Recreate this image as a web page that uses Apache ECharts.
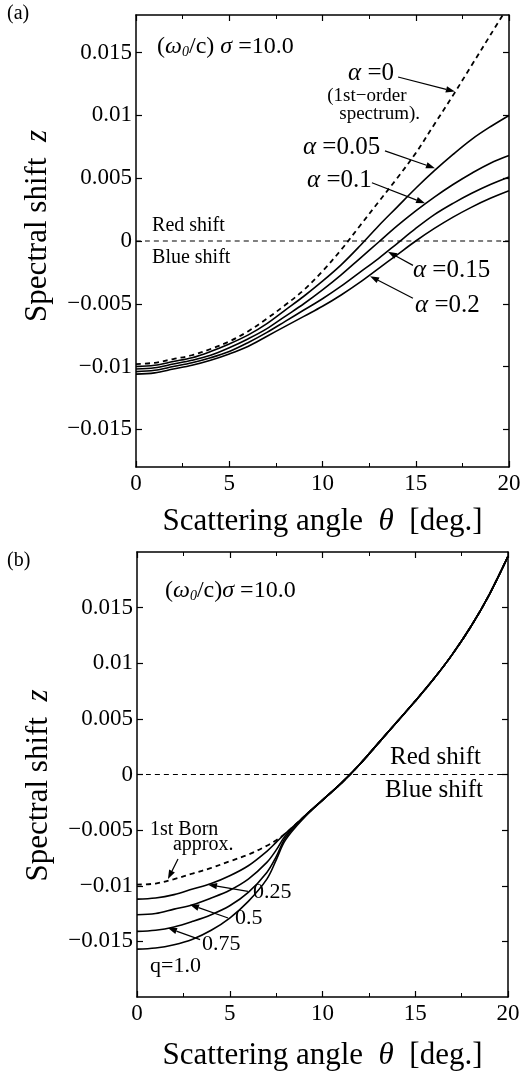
<!DOCTYPE html>
<html><head><meta charset="utf-8">
<script src="https://cdn.jsdelivr.net/npm/echarts@6/dist/echarts.min.js"></script>
<style>html,body{margin:0;padding:0;background:#fff}#c{width:525px;height:1072px}</style>
</head><body><div id="c"></div>
<script>
// ---------- data ----------
const xTicks = [0, 5, 10, 15, 20];
const yTicks = [-0.015, -0.01, -0.005, 0, 0.005, 0.01, 0.015];

// Panel (a): scattering angle grid
const thetaA = [0,1,2,3,4,5,6,7,8,9,10,11,12,13,14,15,16,17,18,19,20];
const zAlpha0   = [-0.0098,-0.0097,-0.0094,-0.0091,-0.0086,-0.0080,-0.0072,-0.0062,-0.0051,-0.0039,-0.0024,-0.0007,0.0012,0.0031,0.0050,0.0070,0.0093,0.0116,0.0140,0.0164,0.0188];
const zAlpha005 = [-0.0100,-0.0099,-0.0096,-0.0093,-0.0088,-0.0082,-0.0075,-0.0066,-0.0055,-0.0044,-0.0032,-0.0019,-0.0004,0.0012,0.0027,0.0042,0.0056,0.0069,0.0081,0.0091,0.0100];
const zAlpha01  = [-0.0102,-0.0101,-0.0098,-0.0095,-0.0091,-0.0085,-0.0078,-0.0070,-0.0060,-0.0050,-0.0039,-0.0027,-0.0014,-0.0001,0.0012,0.0024,0.0035,0.0045,0.0054,0.0062,0.0068];
const zAlpha015 = [-0.0104,-0.0103,-0.0100,-0.0097,-0.0093,-0.0088,-0.0081,-0.0073,-0.0064,-0.0055,-0.0046,-0.0036,-0.0025,-0.0014,-0.0002,0.0010,0.0021,0.0030,0.0038,0.0045,0.0051];
const zAlpha02  = [-0.0106,-0.0105,-0.0102,-0.0099,-0.0095,-0.0090,-0.0084,-0.0076,-0.0068,-0.0060,-0.0052,-0.0043,-0.0033,-0.0022,-0.0011,0.0000,0.0010,0.0019,0.0027,0.0034,0.0040];

// Panel (b)
const thetaB = [0,1,2,3,4,5,6,7,7.5,8,9,10,11,12,13,14,15,16,17,18,19,20];
const zBorn = [-0.0099,-0.0098,-0.0094,-0.0089,-0.0084,-0.0078,-0.0072,-0.0064,-0.0059,-0.0053,-0.0038,-0.0023,-0.0008,0.0009,0.0028,0.0047,0.0066,0.0086,0.0108,0.0133,0.0162,0.0196];
const zQ025 = [-0.0112,-0.0111,-0.0108,-0.0103,-0.0098,-0.0091,-0.0082,-0.0069,-0.0061,-0.0053,-0.0038,-0.0023,-0.0008,0.0009,0.0028,0.0047,0.0066,0.0086,0.0108,0.0133,0.0162,0.0196];
const zQ05  = [-0.0126,-0.0125,-0.0121,-0.0117,-0.0111,-0.0104,-0.0094,-0.0079,-0.0068,-0.0055,-0.0038,-0.0023,-0.0008,0.0009,0.0028,0.0047,0.0066,0.0086,0.0108,0.0133,0.0162,0.0196];
const zQ075 = [-0.0141,-0.0140,-0.0137,-0.0132,-0.0126,-0.0118,-0.0106,-0.0088,-0.0074,-0.0057,-0.0038,-0.0023,-0.0008,0.0009,0.0028,0.0047,0.0066,0.0086,0.0108,0.0133,0.0162,0.0196];
const zQ1   = [-0.0157,-0.0156,-0.0153,-0.0148,-0.0140,-0.0129,-0.0114,-0.0094,-0.0077,-0.0059,-0.0039,-0.0023,-0.0008,0.0009,0.0028,0.0047,0.0066,0.0086,0.0108,0.0133,0.0162,0.0196];

// red/blue shift divider
const zeroX = [0, 20];
const zeroZ = [0, 0];

// ---------- chart ----------
const FONT = '"Liberation Serif", "Times New Roman", serif';
const chart = echarts.init(document.getElementById('c'), null, {renderer: 'canvas'});
const pair = (xs, ys) => xs.map((x, i) => [x, ys[i]]);
const fmtY = v => { const s = String(+Math.abs(v).toFixed(3)); return v < 0 ? '\u2212' + s : s; };

function xAxes(g, nameGap) {
  const base = {
    gridIndex: g, type: 'value', min: 0, max: 20, interval: 5,
    axisLine: {show: true, onZero: false, lineStyle: {color: '#000', width: 1.5}},
    axisTick: {show: true, inside: true, length: 6, lineStyle: {color: '#000', width: 1.2}},
    minorTick: {show: true, splitNumber: 2, length: 4, lineStyle: {color: '#000', width: 1}},
    splitLine: {show: false}, minorSplitLine: {show: false}
  };
  return [
    Object.assign({}, base, {
      position: 'bottom',
      axisLabel: {show: true, color: '#000', fontFamily: FONT, fontSize: 23, margin: 5,
        customValues: xTicks, formatter: v => String(v)},
      name: 'Scattering angle  {i|\u03b8}  [deg.]', nameLocation: 'middle', nameGap: nameGap,
      nameTextStyle: {color: '#000', fontFamily: FONT, fontSize: 31,
        rich: {i: {fontFamily: FONT, fontStyle: 'italic', fontSize: 31, color: '#000'}}}
    }),
    Object.assign({}, base, {position: 'top', axisLabel: {show: false}})
  ];
}
function yAxes(g, lim, pad) {
  const base = {
    gridIndex: g, type: 'value', min: -lim, max: lim,
    axisLine: {show: true, onZero: false, lineStyle: {color: '#000', width: 1.5}},
    axisTick: {show: true, inside: true, length: 6, customValues: yTicks, lineStyle: {color: '#000', width: 1.2}},
    splitLine: {show: false}
  };
  return [
    Object.assign({}, base, {
      position: 'left',
      axisLabel: {show: true, color: '#000', fontFamily: FONT, fontSize: 23, margin: 4,
        customValues: yTicks, formatter: fmtY},
      name: 'Spectral shift  {i|z}', nameLocation: 'middle', nameGap: 83,
      nameTextStyle: {color: '#000', fontFamily: FONT, fontSize: 31, padding: pad,
        rich: {i: {fontFamily: FONT, fontStyle: 'italic', fontSize: 31, color: '#000'}}}
    }),
    Object.assign({}, base, {position: 'right', axisLabel: {show: false}})
  ];
}

function line(name, xi, yi, xs, ys, dashed, width) {
  return {
    name, type: 'line', xAxisIndex: xi, yAxisIndex: yi, data: pair(xs, ys),
    showSymbol: false, symbol: 'none', smooth: 0.35, silent: true,
    lineStyle: {color: '#000', width: width || 1.6, type: dashed ? [5, 4] : 'solid'},
    z: 3
  };
}

chart.setOption({
  animation: false,
  backgroundColor: '#fff',
  grid: [
    {left: 136, top: 15, width: 373, height: 452},
    {left: 137, top: 552, width: 371, height: 451}
  ],
  xAxis: [...xAxes(0, 39), ...xAxes(1, 43)],
  yAxis: [...yAxes(0, 0.018, [0, 0, 0, 30]), ...yAxes(1, 0.02, [0, 22, 0, 0])],
  series: [
    line('zeroA', 0, 0, zeroX, zeroZ, true, 1.2),
    line('\u03b1=0', 0, 0, thetaA, zAlpha0, true, 1.8),
    line('\u03b1=0.05', 0, 0, thetaA, zAlpha005, false),
    line('\u03b1=0.1', 0, 0, thetaA, zAlpha01, false),
    line('\u03b1=0.15', 0, 0, thetaA, zAlpha015, false),
    line('\u03b1=0.2', 0, 0, thetaA, zAlpha02, false),
    line('zeroB', 2, 2, zeroX, zeroZ, true, 1.2),
    line('q=1.0', 2, 2, thetaB, zQ1, false),
    line('q=0.75', 2, 2, thetaB, zQ075, false),
    line('q=0.5', 2, 2, thetaB, zQ05, false),
    line('q=0.25', 2, 2, thetaB, zQ025, false),
    line('1st Born', 2, 2, thetaB, zBorn, true, 1.8)
  ]
});

// ---------- annotations (placed in data coordinates) ----------
const P = (g, p) => chart.convertToPixel({seriesIndex: g === 0 ? 1 : 7}, p);
const gfx = [];
const italic = {fontFamily: FONT, fontStyle: 'italic', fill: '#000'};
function text(g, p, str, size, rich, lh) {
  const q = P(g, p);
  const r = {};
  if (rich) for (const k in rich) r[k] = Object.assign({fontSize: size, fontFamily: FONT, fill: '#000'}, rich[k]);
  const st = {text: str, fontFamily: FONT, fontSize: size, fill: '#000', align: 'left', verticalAlign: 'middle', rich: r};
  if (lh) st.lineHeight = lh;
  gfx.push({type: 'text', x: q[0], y: q[1], silent: true, z: 10, style: st});
}
function arrow(g, a, b) {
  const p0 = P(g, a), p1 = P(g, b);
  const dx = p1[0] - p0[0], dy = p1[1] - p0[1], L = Math.hypot(dx, dy);
  const ux = dx / L, uy = dy / L, hl = 9, hw = 3.2;
  const bx = p1[0] - ux * hl, by = p1[1] - uy * hl;
  gfx.push({type: 'line', silent: true, z: 10, shape: {x1: p0[0], y1: p0[1], x2: bx, y2: by},
    style: {stroke: '#000', lineWidth: 1.2}});
  gfx.push({type: 'polygon', silent: true, z: 10,
    shape: {points: [[p1[0], p1[1]], [bx - uy * hw, by + ux * hw], [bx + uy * hw, by - ux * hw]]},
    style: {fill: '#000'}});
}
const omegaRich = {
  n: {lineHeight: 26},
  i: {fontStyle: 'italic', lineHeight: 26},
  s: {fontSize: 14, fontStyle: 'italic', verticalAlign: 'bottom', lineHeight: 26}
};
const alphaRich = {a: italic};

// panel (a)
text(0, [1.13, 0.0155], '{n|(}{i|\u03c9}{s|0}{n|/c) }{i|\u03c3}{n| =10.0}', 24, omegaRich, 26);
text(0, [11.37, 0.01337], '{a|\u03b1} =0', 25, alphaRich);
arrow(0, [14.05, 0.01306], [17.1, 0.0119]);
text(0, [10.25, 0.01155], '(1st\u2212order', 19);
text(0, [10.9, 0.01012], 'spectrum).', 19);
text(0, [8.95, 0.00742], '{a|\u03b1} =0.05', 25, alphaRich);
arrow(0, [13.35, 0.00718], [16.03, 0.0058]);
text(0, [9.17, 0.0048], '{a|\u03b1} =0.1', 25, alphaRich);
arrow(0, [12.65, 0.00464], [15.5, 0.0030]);
text(0, [14.85, -0.00234], '{a|\u03b1} =0.15', 25, alphaRich);
arrow(0, [14.85, -0.00194], [13.51, -0.00085]);
text(0, [14.96, -0.00512], '{a|\u03b1} =0.2', 25, alphaRich);
arrow(0, [14.85, -0.00456], [12.55, -0.0028]);
text(0, [0.86, 0.00123], 'Red shift', 20);
text(0, [0.86, -0.00131], 'Blue shift', 20);

// panel (b)
text(1, [1.51, 0.01652], '{n|(}{i|\u03c9}{s|0}{n|/c)}{i|\u03c3}{n| =10.0}', 24, omegaRich, 26);
text(1, [13.64, 0.0015], 'Red shift', 25);
text(1, [13.37, -0.00141], 'Blue shift', 25);
text(1, [0.70, -0.00495], '1st Born', 20);
text(1, [1.94, -0.00627], 'approx.', 20);
arrow(1, [2.21, -0.0076], [1.67, -0.0094]);
text(1, [6.25, -0.0106], '0.25', 22);
arrow(1, [5.98, -0.01051], [3.83, -0.0099]);
text(1, [5.28, -0.0129], '0.5', 22);
arrow(1, [4.91, -0.0129], [2.86, -0.0117]);
text(1, [3.50, -0.01528], '0.75', 22);
arrow(1, [3.40, -0.01484], [1.67, -0.0138]);
text(1, [0.70, -0.01723], 'q=1.0', 22);

// panel letters
gfx.push({type: 'text', left: 7, top: 4, silent: true, style: {text: '(a)', fontFamily: FONT, fontSize: 20, fill: '#000'}});
gfx.push({type: 'text', left: 7, top: 551, silent: true, style: {text: '(b)', fontFamily: FONT, fontSize: 20, fill: '#000'}});

chart.setOption({graphic: gfx});
</script>
</body></html>
